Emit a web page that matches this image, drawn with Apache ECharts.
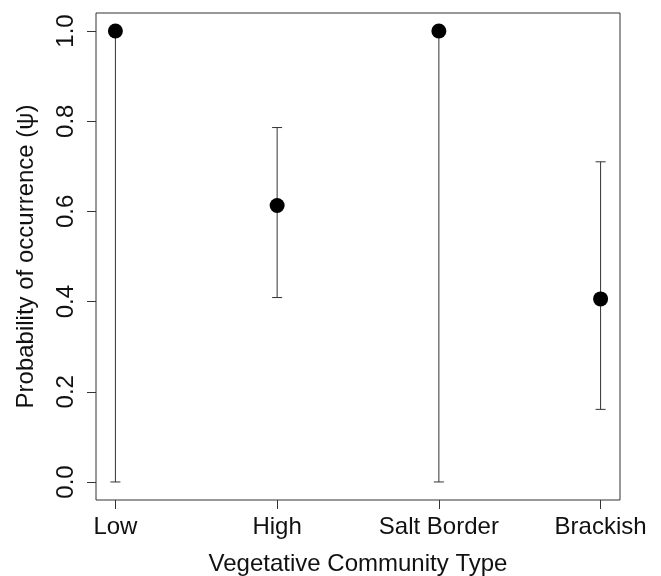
<!DOCTYPE html>
<html>
<head>
<meta charset="utf-8">
<script src="https://cdn.jsdelivr.net/npm/echarts@6/dist/echarts.min.js"></script>
<style>html,body{margin:0;padding:0;background:#fff;}#c{width:661px;height:576px;}</style>
</head>
<body>
<div id="c"></div>
<script>
var categories = ['Low', 'High', 'Salt Border', 'Brackish'];
var psi = [1.0, 0.613, 1.0, 0.406];
var lower = [0.0, 0.409, 0.0, 0.161];
var upper = [1.0, 0.786, 1.0, 0.710];
var yTicks = [0, 0.2, 0.4, 0.6, 0.8, 1.0];
var xTicks = [1, 2, 3, 4];

var pointData = psi.map(function (v, i) { return [i + 1, v]; });
var barData = lower.map(function (v, i) { return [i + 1, v, upper[i]]; });

var font = 'Liberation Sans, Arial, sans-serif';
var chart = echarts.init(document.getElementById('c'), null, {renderer: 'canvas'});
chart.setOption({
  animation: false,
  backgroundColor: '#fff',
  grid: {left: 96, top: 13, right: 41, bottom: 76, containLabel: false, outerBoundsMode: 'none',
    show: true, borderColor: '#333', borderWidth: 1, backgroundColor: 'transparent'},
  xAxis: {
    type: 'value', min: 0.88, max: 4.12,
    name: 'Vegetative Community Type', nameLocation: 'middle', nameGap: 52,
    nameTextStyle: {fontFamily: font, fontSize: 24, color: '#111'},
    axisLine: {show: false, onZero: false},
    splitLine: {show: false},
    axisTick: {show: true, length: 9, customValues: xTicks, lineStyle: {color: '#333'}},
    axisLabel: {customValues: xTicks, margin: 15, fontFamily: font, fontSize: 24, color: '#111',
      formatter: function (v) { return categories[Math.round(v) - 1] || ''; }}
  },
  yAxis: {
    type: 'value', min: -0.04, max: 1.04,
    name: 'Probability of occurrence (ψ)', nameLocation: 'middle', nameGap: 58,
    nameTextStyle: {fontFamily: font, fontSize: 24, color: '#111'},
    axisLine: {show: false, onZero: false},
    splitLine: {show: false},
    axisTick: {show: true, length: 9, customValues: yTicks, lineStyle: {color: '#333'}},
    axisLabel: {customValues: yTicks, rotate: 90, margin: 18, fontFamily: font, fontSize: 24, color: '#111',
      formatter: function (v) { return v.toFixed(1); }}
  },
  series: [
    {
      type: 'custom',
      data: barData,
      renderItem: function (params, api) {
        var x = api.value(0);
        var lo = api.coord([x, api.value(1)]);
        var hi = api.coord([x, api.value(2)]);
        var hw = 5;
        var st = {stroke: '#333', lineWidth: 1};
        return {
          type: 'group',
          children: [
            {type: 'line', shape: {x1: lo[0], y1: lo[1], x2: hi[0], y2: hi[1]}, style: st},
            {type: 'line', shape: {x1: lo[0] - hw, y1: lo[1], x2: lo[0] + hw, y2: lo[1]}, style: st},
            {type: 'line', shape: {x1: hi[0] - hw, y1: hi[1], x2: hi[0] + hw, y2: hi[1]}, style: st}
          ]
        };
      },
      z: 2
    },
    {
      type: 'scatter',
      data: pointData,
      symbol: 'circle',
      symbolSize: 15,
      itemStyle: {color: '#000', opacity: 1},
      z: 3
    }
  ]
});
</script>
</body>
</html>
